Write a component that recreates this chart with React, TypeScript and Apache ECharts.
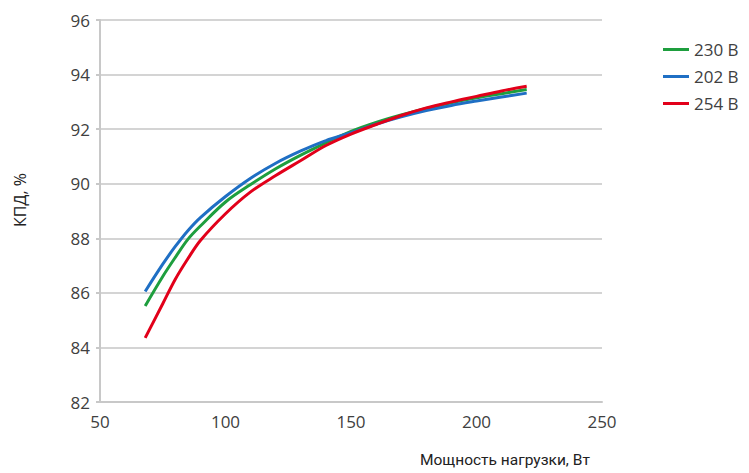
import React, { useEffect, useRef } from "react";
import * as echarts from "echarts";

const loadW = [68, 75, 80, 85, 90, 100, 110, 120, 130, 140, 150, 160, 170, 180, 190, 200, 210, 220];
const eff230 = [85.52, 86.6, 87.3, 87.96, 88.45, 89.33, 89.97, 90.55, 91.05, 91.5, 91.92, 92.25, 92.52, 92.76, 92.97, 93.15, 93.3, 93.45];
const eff202 = [86.05, 87.05, 87.7, 88.28, 88.76, 89.53, 90.2, 90.75, 91.2, 91.58, 91.87, 92.18, 92.45, 92.68, 92.87, 93.03, 93.18, 93.32];
const eff254 = [84.35, 85.6, 86.5, 87.25, 87.92, 88.9, 89.7, 90.3, 90.85, 91.4, 91.82, 92.17, 92.5, 92.78, 93.0, 93.2, 93.4, 93.57];
const seriesNames = ["230 В", "202 В", "254 В"];
const colors = ["#1e9e3e", "#1f6fc4", "#e2001a"];

export default function App() {
  const ref = useRef<HTMLDivElement>(null);
  useEffect(() => {
    if (!ref.current) return;
    const chart = echarts.init(ref.current, null, { renderer: "svg" });
    const all = [eff230, eff202, eff254];
    const labelStyle = { color: "#404040", fontSize: 17, fontFamily: "Open Sans" };
    chart.setOption({
      animation: false,
      backgroundColor: "#ffffff",
      grid: { left: 100, right: 147, top: 20, bottom: 71, containLabel: false },
      legend: {
        orient: "vertical",
        left: 658,
        top: 36,
        padding: 5,
        itemWidth: 26,
        itemHeight: 3,
        itemGap: 10,
        icon: "rect",
        data: seriesNames,
        textStyle: { color: "#404040", fontSize: 17, fontFamily: "Open Sans", padding: [0, 0, 0, 0] },
      },
      xAxis: {
        type: "value",
        min: 50,
        max: 250,
        interval: 50,
        axisLine: { show: true, lineStyle: { color: "#c8c8c8", width: 2 } },
        axisTick: { show: false },
        splitLine: { show: false },
        axisLabel: { ...labelStyle, margin: 11 },
      },
      yAxis: {
        type: "value",
        min: 82,
        max: 96,
        interval: 2,
        axisLine: { show: true, lineStyle: { color: "#c8c8c8", width: 2 } },
        axisTick: { show: true, length: 4, lineStyle: { color: "#c8c8c8", width: 2 } },
        splitLine: { show: true, lineStyle: { color: "#d4d4d4", width: 2 } },
        axisLabel: { ...labelStyle, margin: 10 },
      },
      graphic: [
        {
          type: "text",
          x: 20,
          y: 200,
          rotation: Math.PI / 2,
          style: {
            text: "КПД, %",
            fill: "#222222",
            font: "16px 'Open Sans'",
            align: "center",
            verticalAlign: "middle",
          },
        },
        {
          type: "text",
          left: 420,
          top: 452,
          style: {
            text: "Мощность нагрузки, Вт",
            fill: "#222222",
            font: "15.5px Roboto",
          },
        },
      ],
      series: all.map((arr, i) => ({
        name: seriesNames[i],
        type: "line",
        smooth: 0.35,
        symbol: "none",
        lineStyle: { color: colors[i], width: 3 },
        itemStyle: { color: colors[i] },
        data: loadW.map((w, j) => [w, arr[j]]),
      })),
    });
    return () => chart.dispose();
  }, []);
  return <div ref={ref} style={{ width: 749, height: 473, position: "absolute", left: 0, top: 0 }} />;
}
